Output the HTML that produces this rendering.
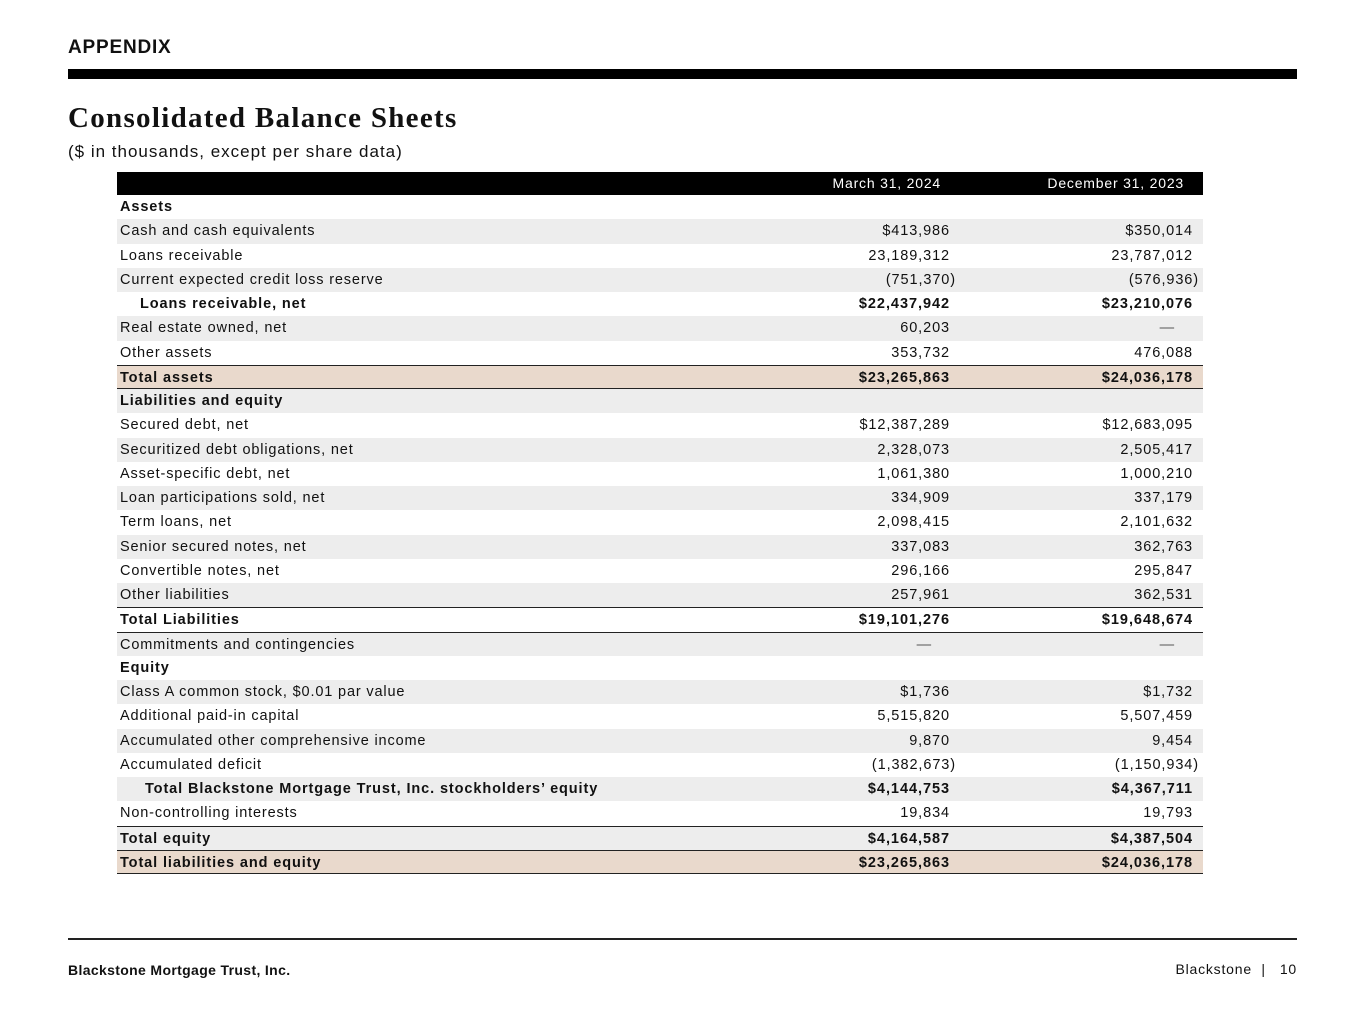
<!DOCTYPE html>
<html><head><meta charset="utf-8"><style>
body{margin:0;width:1365px;height:1024px;background:#fff;font-family:"Liberation Sans",sans-serif;color:#111;position:relative;overflow:hidden}
.abs{position:absolute}
#tbl{position:absolute;left:117px;top:172px;width:1086px}
.hdr{height:23px;background:#000;color:#fff;font-size:14px;position:relative;letter-spacing:0.8px}
.row{height:24.25px;position:relative;font-size:14.5px;box-sizing:border-box}
.g{background:#ededed}.t{background:#e9d9cc}
.bt{border-top:1.5px solid #222}.bb{border-bottom:1.5px solid #222}
.lab{position:absolute;left:3px;top:4px;white-space:nowrap;letter-spacing:0.85px}
.b .lab{letter-spacing:0.9px}
.v1,.v2{position:absolute;top:4px;white-space:nowrap;text-align:right;letter-spacing:0.9px}
.v1{right:253px}.v2{right:10px}
.b{font-weight:bold}.b .v1,.b .v2{letter-spacing:0.95px}
.neg{margin-right:-6px}
</style></head><body>
<div class="abs" style="left:68px;top:37px;font-weight:bold;font-size:19px;letter-spacing:0.8px">APPENDIX</div>
<div class="abs" style="left:68px;top:69px;width:1229px;height:10px;background:#000"></div>
<div class="abs" style="left:68px;top:102px;font-family:'Liberation Serif',serif;font-weight:bold;font-size:29px;letter-spacing:1.3px">Consolidated Balance Sheets</div>
<div class="abs" style="left:68px;top:142px;font-size:17px;letter-spacing:1px">($ in thousands, except per share data)</div>
<div id="tbl">
<div class="hdr"><span class="abs" style="right:262px;top:3px">March 31, 2024</span><span class="abs" style="right:19px;top:3px">December 31, 2023</span></div>
<div id="rows"></div>
</div>
<div class="abs" style="left:68px;top:938px;width:1229px;height:1.5px;background:#222"></div>
<div class="abs" style="left:68px;top:962px;font-weight:bold;font-size:14px;letter-spacing:0.35px">Blackstone Mortgage Trust, Inc.</div>
<div class="abs" style="right:68px;top:961px;font-size:14px;letter-spacing:0.8px">Blackstone &nbsp;| &nbsp;&nbsp;10</div>
<script>
const labels=["Assets","Cash and cash equivalents","Loans receivable","Current expected credit loss reserve","Loans receivable, net","Real estate owned, net","Other assets","Total assets","Liabilities and equity","Secured debt, net","Securitized debt obligations, net","Asset-specific debt, net","Loan participations sold, net","Term loans, net","Senior secured notes, net","Convertible notes, net","Other liabilities","Total Liabilities","Commitments and contingencies","Equity","Class A common stock, $0.01 par value","Additional paid-in capital","Accumulated other comprehensive income","Accumulated deficit","Total Blackstone Mortgage Trust, Inc. stockholders’ equity","Non-controlling interests","Total equity","Total liabilities and equity"];
const mar2024=["","$413,986","23,189,312","(751,370)","$22,437,942","60,203","353,732","$23,265,863","","$12,387,289","2,328,073","1,061,380","334,909","2,098,415","337,083","296,166","257,961","$19,101,276","—","","$1,736","5,515,820","9,870","(1,382,673)","$4,144,753","19,834","$4,164,587","$23,265,863"];
const dec2023=["","$350,014","23,787,012","(576,936)","$23,210,076","—","476,088","$24,036,178","","$12,683,095","2,505,417","1,000,210","337,179","2,101,632","362,763","295,847","362,531","$19,648,674","—","","$1,732","5,507,459","9,454","(1,150,934)","$4,367,711","19,793","$4,387,504","$24,036,178"];
const styles=["b","g","","g","b ind","g","","t b bt bb","g b","","g","","g","","g","","g","b bt","g bt","b","g","","g","","g b ind2","","g b bt","t b bt bb"];
const cont=document.getElementById('rows');
labels.forEach((l,i)=>{
 const r=document.createElement('div');
 r.className='row '+styles[i];
 
 
 const ind=styles[i].includes('ind2')?28:(styles[i].includes('ind')?23:3);
 const fix=v=>{if(v==='—')return '<span style="margin-right:18px;color:#555">—</span>';return v.endsWith(')')?'<span class="neg">'+v+'</span>':v;};
 r.innerHTML='<span class="lab" style="left:'+ind+'px">'+l+'</span><span class="v1">'+fix(mar2024[i])+'</span><span class="v2">'+fix(dec2023[i])+'</span>';
 cont.appendChild(r);
});
</script>
</body></html>
